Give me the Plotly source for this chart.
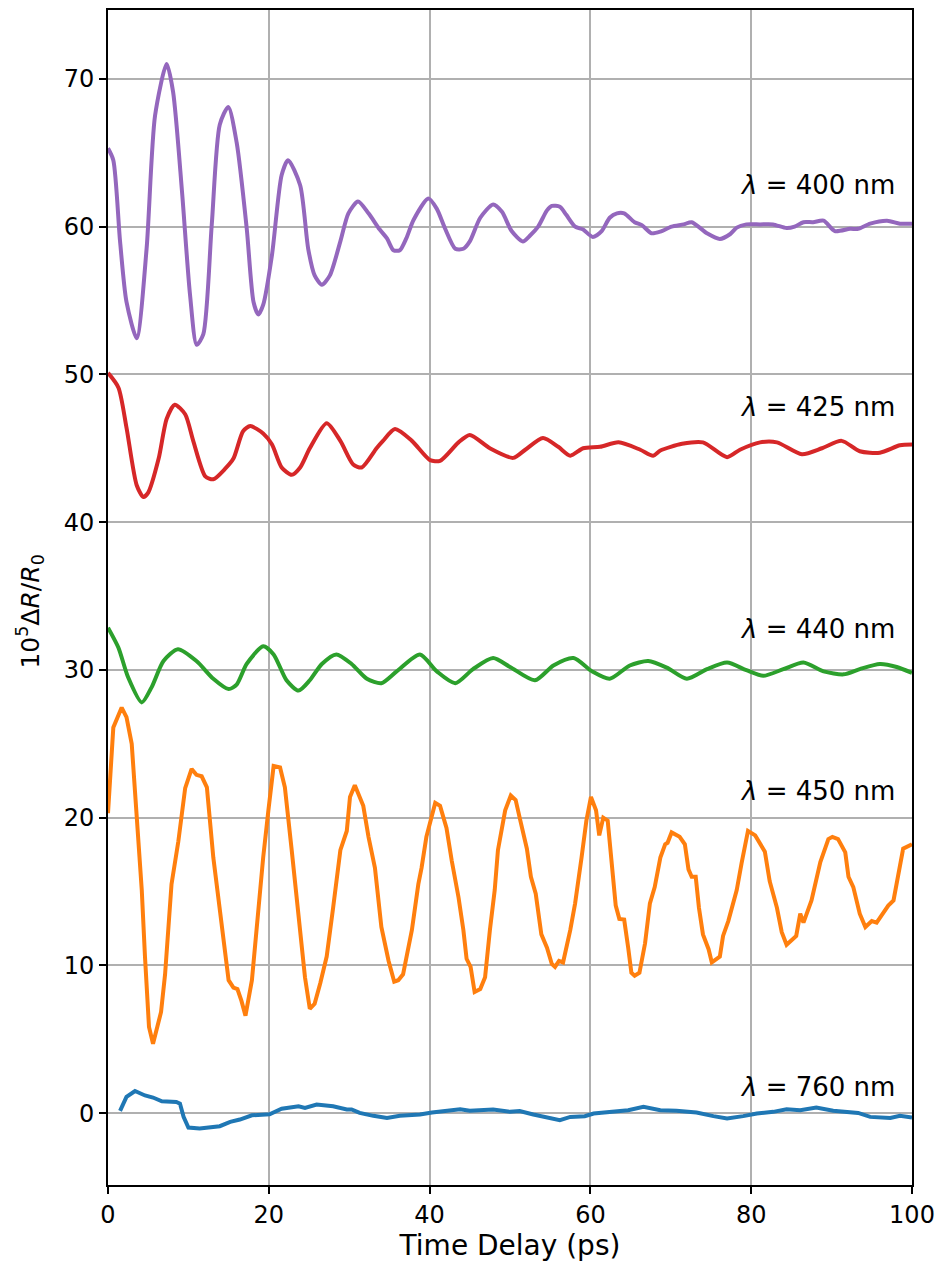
import plotly.graph_objects as go

# Time delay (ps) and reflectivity change (1e5 * dR/R0) for each probe wavelength
t_400 = [0.0, 0.66, 1.5, 2.3, 3.57, 4.8, 5.85, 7.3, 8.1, 9.2, 10.2, 11.03, 11.85, 12.9, 13.9,
         14.96, 16.0, 17.25, 18.1, 18.7, 19.3, 20.4, 21.6, 22.4, 23.9, 24.9, 25.7, 26.6, 27.6,
         28.9, 29.9, 31.1, 32.4, 33.8, 34.7, 35.5, 36.3, 37.1, 38.0, 39.84, 40.9, 41.9, 43.2,
         44.2, 45.0, 46.3, 47.9, 49.0, 50.2, 51.6, 52.5, 53.5, 54.6, 55.2, 56.2, 57.0, 58.1,
         59.1, 60.3, 61.4, 62.4, 63.3, 64.2, 65.5, 66.4, 67.6, 68.7, 70.1, 71.6, 72.6, 74.5,
         76.1, 77.4, 78.2, 79.4, 81.1, 82.7, 84.4, 85.4, 86.5, 87.7, 89.0, 90.4, 92.3, 93.3,
         94.8, 96.9, 98.5, 100.0]
r_400 = [65.3, 64.5, 59.0, 54.9, 52.45, 58.5, 67.5, 71.0, 69.1, 62.4, 55.4, 52.0, 52.7, 60.1, 66.9,
         68.1, 65.7, 59.9, 54.9, 54.05, 54.7, 58.1, 63.5, 64.5, 62.8, 58.5, 56.7, 56.06, 56.7,
         59.0, 60.9, 61.7, 60.9, 59.8, 59.2, 58.4, 58.4, 59.2, 60.45, 61.9, 61.2, 59.9, 58.5,
         58.5, 59.0, 60.6, 61.5, 61.0, 59.7, 59.0, 59.4, 60.0, 61.1, 61.4, 61.35, 60.8, 60.0,
         59.8, 59.3, 59.7, 60.6, 60.9, 60.9, 60.3, 60.1, 59.55, 59.66, 60.0, 60.15, 60.3, 59.55,
         59.17, 59.5, 59.93, 60.15, 60.15, 60.15, 59.9, 60.0, 60.3, 60.3, 60.4, 59.7, 59.85, 59.85,
         60.2, 60.4, 60.2, 60.2]

t_425 = [0.0, 1.3, 2.3, 3.57, 4.4, 5.0, 6.3, 7.3, 8.3, 9.6, 10.6, 12.1, 13.1, 14.55, 15.6, 16.8,
         17.7, 19.3, 20.4, 21.6, 22.85, 23.9, 25.1, 27.2, 28.9, 30.5, 31.55, 33.4, 34.2, 35.7,
         37.8, 40.05, 41.3, 43.6, 45.0, 47.5, 50.4, 51.9, 54.1, 56.0, 57.5, 59.1, 61.2, 63.5,
         66.2, 67.8, 68.7, 71.4, 74.0, 77.0, 78.6, 81.1, 83.2, 86.3, 88.8, 91.25, 93.5, 96.0,
         98.5, 100.0]
r_425 = [50.1, 49.1, 46.4, 42.5, 41.7, 42.0, 44.3, 47.0, 47.95, 47.3, 45.5, 43.1, 42.9, 43.6, 44.3, 46.15,
         46.5, 46.0, 45.25, 43.7, 43.2, 43.7, 45.0, 46.7, 45.5, 43.9, 43.7, 45.0, 45.5, 46.3,
         45.5, 44.2, 44.15, 45.4, 45.9, 45.0, 44.35, 44.9, 45.7, 45.1, 44.5, 45.0, 45.1, 45.4,
         44.9, 44.5, 44.85, 45.3, 45.4, 44.4, 44.9, 45.4, 45.4, 44.6, 45.0, 45.5, 44.8, 44.7,
         45.2, 45.25]

t_440 = [0.0, 1.3, 2.5, 4.2, 5.4, 6.9, 8.7, 11.0, 13.1, 15.0, 16.0, 17.25, 19.3, 20.6, 22.2, 23.7,
         25.1, 26.6, 28.4, 30.3, 32.2, 34.0, 35.9, 38.8, 40.9, 43.2, 45.4, 47.9, 50.0, 53.1,
         55.4, 57.9, 60.2, 62.4, 64.9, 67.2, 69.5, 72.0, 74.5, 77.0, 79.4, 81.5, 84.0, 86.5,
         89.0, 91.5, 93.5, 96.0, 98.1, 100.0]
r_440 = [32.86, 31.5, 29.5, 27.8, 28.8, 30.6, 31.4, 30.6, 29.4, 28.7, 29.0, 30.4, 31.6, 31.05, 29.3, 28.6,
         29.3, 30.4, 31.05, 30.4, 29.4, 29.1, 29.9, 31.05, 29.9, 29.1, 30.05, 30.8, 30.2, 29.3,
         30.3, 30.8, 29.9, 29.4, 30.3, 30.6, 30.15, 29.4, 30.05, 30.5, 29.98, 29.6, 30.05, 30.5,
         29.9, 29.7, 30.05, 30.4, 30.2, 29.8]

t_450 = [0.0, 0.66, 1.7, 2.3, 2.95, 3.57, 4.2, 4.6, 5.1, 5.6, 6.6, 7.1, 7.9, 8.75, 9.6, 10.4, 11.0,
         11.65, 12.3, 13.1, 13.9, 15.0, 15.6, 16.1, 16.6, 17.1, 17.9, 18.5, 19.3, 19.95, 20.6,
         21.4, 22.0, 22.85, 23.7, 24.5, 25.1, 25.7, 26.4, 27.2, 28.0, 28.9, 29.7, 30.1, 30.7,
         31.75, 32.4, 33.2, 34.0, 34.9, 35.6, 36.1, 36.7, 37.8, 38.6, 39.0, 39.6, 40.7, 41.3,
         42.1, 42.75, 43.6, 44.2, 44.6, 45.1, 45.6, 46.3, 46.9, 47.5, 48.1, 48.5, 49.4, 50.1,
         50.7, 51.2, 51.65, 52.1, 52.6, 53.2, 53.9, 54.6, 55.2, 55.6, 56.1, 56.6, 57.5, 58.1,
         58.9, 59.5, 60.07, 60.7, 61.1, 61.6, 62.15, 62.65, 63.15, 63.6, 64.2, 64.7, 65.1, 65.5,
         66.1, 66.8, 67.4, 68.0, 68.7, 69.3, 69.6, 70.1, 71.1, 71.75, 72.2, 72.6, 73.1, 73.5,
         74.0, 74.7, 75.1, 76.1, 76.5, 77.15, 78.2, 78.8, 79.6, 80.5, 81.7, 82.3, 83.2, 83.8,
         84.4, 85.6, 86.1, 86.5, 87.5, 88.6, 89.6, 90.1, 90.8, 91.7, 92.1, 92.7, 93.5, 94.2,
         95.0, 95.6, 96.4, 97.05, 97.7, 98.3, 98.9, 100.0]
r_450 = [20.3, 26.1, 27.45, 26.8, 25.0, 20.0, 15.1, 10.6, 5.83, 4.7, 6.85, 9.4, 15.5, 18.4, 22.0, 23.3, 22.9,
         22.8, 22.05, 17.3, 13.7, 9.0, 8.5, 8.4, 7.6, 6.6, 9.0, 12.8, 17.3, 20.5, 23.5,
         23.4, 22.05, 17.8, 13.3, 9.2, 7.07, 7.4, 8.8, 10.6, 13.9, 17.8, 19.1, 21.4, 22.2,
         20.8, 18.7, 16.6, 12.6, 10.3, 8.9, 9.0, 9.4, 12.4, 15.5, 16.6, 18.7, 21.0, 20.8,
         19.3, 17.1, 14.6, 12.4, 10.45, 9.9, 8.2, 8.4, 9.2, 12.4, 15.1, 17.8, 20.5, 21.5,
         21.2, 20.0, 18.8, 17.9, 16.0, 14.85, 12.1, 11.2, 10.1, 9.9, 10.3, 10.2, 12.4, 14.2,
         17.3, 19.8, 21.4, 20.5, 18.8, 20.0, 19.8, 17.1, 14.05, 13.15, 13.1, 11.2, 9.5, 9.3,
         9.5, 11.5, 14.2, 15.3, 17.3, 18.2, 18.3, 19.0, 18.7, 18.2, 16.5, 16.0, 16.0, 13.9,
         12.1, 11.1, 10.2, 10.6, 12.0, 13.0, 15.1, 16.9, 19.1, 18.8, 17.7, 15.7, 13.9, 12.25,
         11.4, 12.0, 13.5, 12.9, 14.4, 17.0, 18.55, 18.7, 18.55, 17.65, 16.0, 15.3, 13.5, 12.6,
         13.0, 12.9, 13.5, 14.05, 14.4, 16.1, 17.9, 18.2]

t_760 = [1.5, 2.3, 3.36, 4.6, 5.6, 6.7, 8.5, 8.95, 9.4, 10.0, 11.4, 12.7, 13.9, 15.2, 16.4, 17.9,
         20.1, 21.6, 23.7, 24.5, 25.95, 28.0, 29.7, 30.3, 31.3, 33.0, 34.7, 36.3, 38.8, 40.3,
         42.1, 43.8, 45.0, 47.9, 50.0, 51.2, 52.9, 55.0, 56.2, 57.5, 59.3, 60.4, 62.8, 64.7,
         66.6, 68.7, 70.7, 73.2, 75.3, 77.0, 79.0, 80.7, 82.75, 84.4, 86.1, 88.1, 90.2, 93.3,
         94.8, 97.3, 98.5, 100.0]
r_760 = [0.16, 1.1, 1.5, 1.2, 1.06, 0.8, 0.76, 0.65, -0.25, -0.97, -1.03, -0.97, -0.88, -0.59, -0.43, -0.14,
         -0.07, 0.3, 0.47, 0.36, 0.59, 0.47, 0.25, 0.25, 0.02, -0.18, -0.32, -0.18, -0.09, 0.04,
         0.16, 0.27, 0.16, 0.25, 0.09, 0.14, -0.09, -0.36, -0.47, -0.25, -0.2, -0.02, 0.09, 0.2,
         0.43, 0.2, 0.16, 0.05, -0.2, -0.36, -0.2, -0.02, 0.09, 0.27, 0.2, 0.38, 0.16, 0.02,
         -0.25, -0.32, -0.18, -0.29]

wavelengths = ["400", "425", "440", "450", "760"]
label_y = [62.85, 47.8, 32.8, 21.8, 1.8]
label_x = 98.1

series = [
    (t_760, r_760, "#1f77b4", "linear"),
    (t_450, r_450, "#ff7f0e", "linear"),
    (t_440, r_440, "#2ca02c", "spline"),
    (t_425, r_425, "#d62728", "spline"),
    (t_400, r_400, "#9467bd", "spline"),
]

FONT = "DejaVu Sans"
fig = go.Figure()
for t, r, color, shape in series:
    line = dict(color=color, width=4, shape=shape)
    if shape == "spline":
        line["smoothing"] = 0.7
    fig.add_trace(go.Scatter(x=t, y=r, mode="lines", line=line,
                             showlegend=False, hoverinfo="skip"))

# Wavelength labels, right-aligned near the right edge of the axes
for wl, ly in zip(wavelengths, label_y):
    fig.add_annotation(x=label_x, y=ly, xref="x", yref="y", showarrow=False,
                       xanchor="right", yanchor="middle",
                       text="<i>λ</i>&nbsp;=&nbsp;" + wl + " nm",
                       font=dict(family=FONT, size=26, color="black"))

# Vertical axis title
fig.add_annotation(x=-0.097, y=0.488, xref="paper", yref="paper", showarrow=False,
                   textangle=-90, xanchor="center", yanchor="middle",
                   text="10<sup>5</sup>Δ<i>R</i>/<i>R</i><sub>0</sub>",
                   font=dict(family=FONT, size=25, color="black"))

axis_common = dict(
    showline=True, linecolor="black", linewidth=1.6, mirror=True,
    ticks="outside", ticklen=7, tickwidth=1.6, tickcolor="black",
    showgrid=True, gridcolor="#b0b0b0", gridwidth=1.6,
    zeroline=False,
    tickfont=dict(family=FONT, size=24, color="black"),
)

fig.update_xaxes(range=[0, 100], tickvals=[0, 20, 40, 60, 80, 100],
                 title=dict(text="Time Delay (ps)", font=dict(family=FONT, size=28, color="black"),
                            standoff=3),
                 **axis_common)
fig.update_yaxes(range=[-4.86, 74.66], tickvals=[0, 10, 20, 30, 40, 50, 60, 70],
                 **axis_common)

fig.update_layout(
    width=946, height=1270,
    margin=dict(l=108, r=34, t=8, b=85),
    paper_bgcolor="white", plot_bgcolor="white",
    font=dict(family=FONT, color="black"),
)

fig.write_html("out.html")
